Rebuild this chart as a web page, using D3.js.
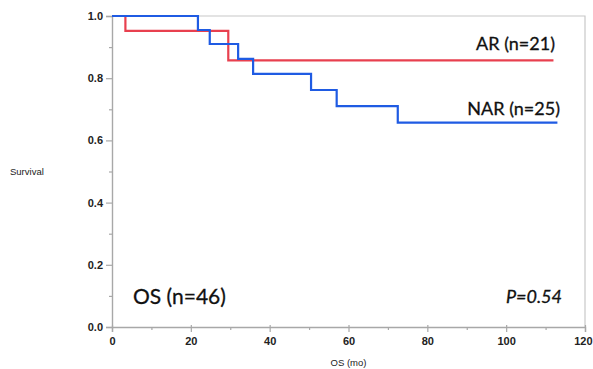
<!DOCTYPE html>
<html>
<head>
<meta charset="utf-8">
<script src="https://cdn.jsdelivr.net/npm/d3@7"></script>
<style>
  body { margin: 0; background: #fff; }
  svg { display: block; }
</style>
</head>
<body>
<svg id="chart"></svg>
<script>
// Kaplan-Meier steps
const arTimes = [0, 3.4, 29.5, 112];
const arSurv = [1.0, 0.952, 0.857, 0.857];
const narTimes = [0, 21.8, 24.8, 32, 35.8, 50.5, 57, 72.5, 113];
const narSurv = [1.0, 0.955, 0.91, 0.862, 0.814, 0.762, 0.71, 0.657, 0.657];

const xTicks = [0, 20, 40, 60, 80, 100, 120];
const xMinor = [10, 30, 50, 70, 90, 110];
const yTicks = [0, 0.2, 0.4, 0.6, 0.8, 1.0];
const yMinor = [0.1, 0.3, 0.5, 0.7, 0.9];

const width = 593, height = 369;
const margin = { top: 16, right: 8, bottom: 42, left: 112 };

const svg = d3.select('#chart').attr('width', width).attr('height', height);

// scales
const x = d3.scaleLinear().domain([0, 120]).range([margin.left, width - margin.right]);
const y = d3.scaleLinear().domain([0, 1]).range([height - margin.bottom, margin.top]);

const axisColor = '#a8a8a8';

// frame (top & right)
svg.append('path')
  .attr('d', `M${x(0)},${y(1)}H${x(120)}V${y(0)}`)
  .attr('fill', 'none')
  .attr('stroke', '#c8c8c8')
  .attr('stroke-width', 1.2);

// x axis
const xAxis = svg.append('g')
  .attr('transform', `translate(0,${y(0)})`)
  .call(d3.axisBottom(x).tickValues(xTicks).tickSize(5).tickFormat(d3.format('d')));
xAxis.selectAll('line').attr('y1', -2);
svg.append('g')
  .attr('transform', `translate(0,${y(0)})`)
  .call(d3.axisBottom(x).tickValues(xMinor).tickSize(3).tickFormat(''))
  .select('.domain').remove();

// y axis
const yAxis = svg.append('g')
  .attr('transform', `translate(${x(0)},0)`)
  .call(d3.axisLeft(y).tickValues(yTicks).tickSize(6).tickFormat(d3.format('.1f')));
svg.append('g')
  .attr('transform', `translate(${x(0)},0)`)
  .call(d3.axisLeft(y).tickValues(yMinor).tickSize(3).tickFormat(''))
  .select('.domain').remove();

svg.selectAll('.domain').attr('stroke', axisColor).attr('stroke-width', 1.4);
svg.selectAll('.tick line').attr('stroke', axisColor).attr('stroke-width', 1.2);
svg.selectAll('.tick text')
  .attr('fill', '#222')
  .style('font-family', 'Arial, "Liberation Sans", sans-serif')
  .style('font-size', '11px')
  .style('font-weight', 'bold');
xAxis.selectAll('.tick text').attr('dy', '0.9em');
// last label would run off the right edge; pull it in
xAxis.selectAll('.tick text').filter(d => d === 120)
  .attr('text-anchor', 'end').attr('x', 7);
yAxis.selectAll('.tick text').attr('x', -9);

// axis titles
svg.append('text')
  .attr('x', 10).attr('y', 175)
  .text('Survival')
  .style('font-family', 'Arial, "Liberation Sans", sans-serif')
  .style('font-size', '9.5px')
  .attr('fill', '#222');
svg.append('text')
  .attr('x', x(60)).attr('y', 366)
  .attr('text-anchor', 'middle')
  .text('OS (mo)')
  .style('font-family', 'Arial, "Liberation Sans", sans-serif')
  .style('font-size', '9.5px')
  .attr('fill', '#222');

// curves
const line = d3.line()
  .x(d => x(d[0]))
  .y(d => y(d[1]))
  .curve(d3.curveStepAfter);

svg.append('path')
  .datum(d3.zip(arTimes, arSurv))
  .attr('d', line)
  .attr('fill', 'none')
  .attr('stroke', '#e8404f')
  .attr('stroke-width', 2.2);

svg.append('path')
  .datum(d3.zip(narTimes, narSurv))
  .attr('d', line)
  .attr('fill', 'none')
  .attr('stroke', '#1f5be3')
  .attr('stroke-width', 2.2);

// labels
const labelFont = 'Lato, "Open Sans", sans-serif';
const labels = [
  { text: 'AR (n=21)', x: 555, y: 50, anchor: 'end', size: 18, italic: false },
  { text: 'NAR (n=25)', x: 560, y: 115, anchor: 'end', size: 18, italic: false },
  { text: 'OS (n=46)', x: 133, y: 304, anchor: 'start', size: 21, italic: false },
  { text: 'P=0.54', x: 562, y: 303, anchor: 'end', size: 18, italic: true }
];
svg.selectAll('text.label')
  .data(labels)
  .enter()
  .append('text')
  .attr('class', 'label')
  .attr('x', d => d.x)
  .attr('y', d => d.y)
  .attr('text-anchor', d => d.anchor)
  .text(d => d.text)
  .style('font-family', labelFont)
  .style('font-size', d => d.size + 'px')
  .style('font-style', d => d.italic ? 'italic' : 'normal')
  .attr('fill', '#111')
  .attr('stroke', '#111')
  .attr('stroke-width', 0.3);
</script>
</body>
</html>
